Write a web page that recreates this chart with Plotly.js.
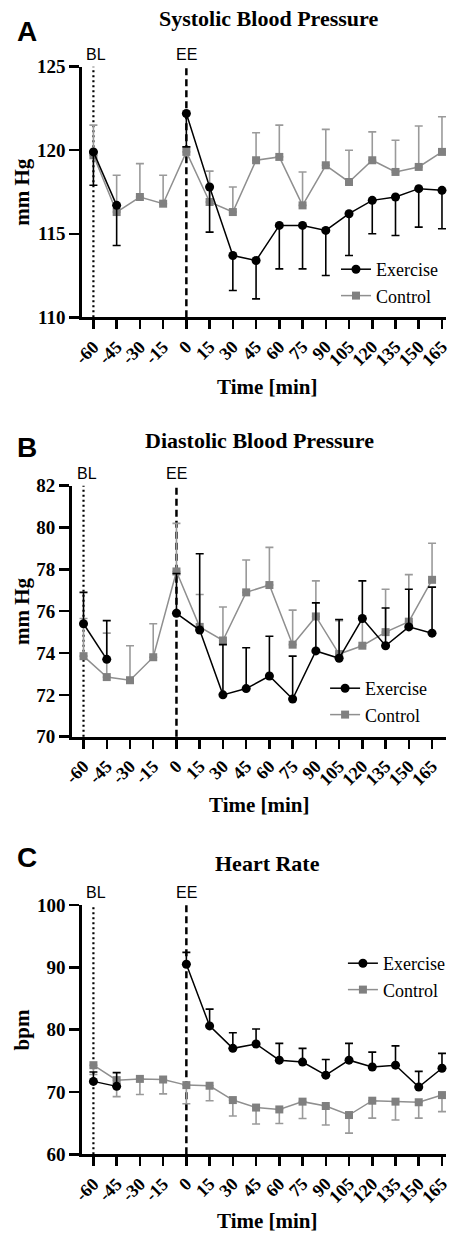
<!DOCTYPE html>
<html>
<head>
<meta charset="utf-8">
<script src="https://cdn.plot.ly/plotly-3.0.1.min.js"></script>
<style>html,body{margin:0;padding:0;background:#fff;}#chart{width:450px;height:1234px;}</style>
</head>
<body>
<div id="chart"></div>
<script>
// ---------- data ----------
const timeMin = [-60, -45, -30, -15, 0, 15, 30, 45, 60, 75, 90, 105, 120, 135, 150, 165];
const tickLabels = ["-60","-45","-30","-15","0","15","30","45","60","75","90","105","120","135","150","165"];
const seriesNames = ["Exercise", "Control"];
const markerTimes = {BL: -60, EE: 0};

// A: systolic (exercise SEM drawn downward, control SEM upward)
const sbpExercise = [119.9, 116.7, null, null, 122.2, 117.8, 113.7, 113.4, 115.5, 115.5, 115.2, 116.2, 117.0, 117.2, 117.7, 117.6];
const sbpExerciseErr = [2.0, 2.4, null, null, 2.0, 2.7, 2.1, 2.3, 2.6, 2.6, 2.7, 2.5, 2.0, 2.3, 2.3, 2.3];
const sbpControl = [119.7, 116.3, 117.2, 116.8, 119.9, 116.9, 116.3, 119.4, 119.6, 116.7, 119.1, 118.1, 119.4, 118.7, 119.0, 119.9];
const sbpControlErr = [1.8, 2.2, 2.0, 1.7, 0.3, 1.85, 1.5, 1.65, 1.9, 2.0, 2.15, 1.9, 1.7, 1.9, 2.45, 2.1];

// B: diastolic (both SEM upward)
const dbpExercise = [75.4, 73.7, null, null, 75.9, 75.1, 72.0, 72.3, 72.9, 71.8, 74.1, 73.75, 75.65, 74.35, 75.25, 74.95];
const dbpExerciseErr = [1.5, 1.85, null, null, 1.9, 3.65, 2.4, 1.95, 1.9, 2.05, 2.3, 1.85, 1.8, 1.8, 1.8, 2.2];
const dbpControl = [73.85, 72.85, 72.7, 73.8, 77.9, 75.25, 74.6, 76.9, 77.25, 74.4, 75.75, 73.95, 74.35, 75.0, 75.5, 77.5];
const dbpControlErr = [1.8, 2.1, 1.65, 1.6, 2.3, 1.55, 1.6, 1.55, 1.8, 1.65, 1.7, 1.6, 1.3, 2.05, 2.25, 1.75];

// C: heart rate (exercise SEM upward, control SEM downward)
const hrExercise = [71.7, 70.9, null, null, 90.5, 80.6, 77.0, 77.7, 75.1, 74.8, 72.7, 75.1, 74.0, 74.3, 70.8, 73.8];
const hrExerciseErr = [1.5, 2.2, null, null, 1.9, 2.7, 2.5, 2.4, 2.7, 2.2, 2.5, 2.7, 2.4, 3.1, 2.5, 2.4];
const hrControl = [74.3, 71.9, 72.1, 72.0, 71.1, 71.0, 68.7, 67.5, 67.2, 68.45, 67.75, 66.3, 68.6, 68.45, 68.35, 69.5];
const hrControlErr = [1.5, 2.65, 2.5, 2.3, 3.0, 2.4, 2.55, 2.65, 2.25, 2.7, 3.05, 2.9, 2.8, 2.95, 2.55, 2.65];

// ---------- styling ----------
const SERIF = "Liberation Serif, Times New Roman, serif";
const SANS = "Liberation Sans, Arial, sans-serif";
const BLACK = "#000000";
const GREY = "#808080";
const GREY_LINE = "#8f8f8f";
const GREY_ERR = "#9a9a9a";
const zeros = timeMin.map(() => 0);

function errObj(vals, dir, color) {
  const e = {type: "data", symmetric: false, color: color, thickness: 1.6, width: 4};
  if (dir === "up") { e.array = vals; e.arrayminus = zeros; }
  else { e.array = zeros; e.arrayminus = vals; }
  return e;
}
function ctrlTrace(y, err, dir, ax, leg) {
  return {x: timeMin, y: y, name: seriesNames[1], type: "scatter", mode: "lines+markers",
    xaxis: "x" + ax, yaxis: "y" + ax, legend: leg, cliponaxis: false,
    line: {color: GREY_LINE, width: 1.5},
    marker: {symbol: "square", size: 8, color: GREY},
    error_y: errObj(err, dir, GREY_ERR)};
}
function exTrace(y, err, dir, ax, leg) {
  return {x: timeMin, y: y, name: seriesNames[0], type: "scatter", mode: "lines+markers",
    xaxis: "x" + ax, yaxis: "y" + ax, legend: leg, cliponaxis: false, connectgaps: false,
    line: {color: BLACK, width: 1.5},
    marker: {symbol: "circle", size: 9, color: BLACK},
    error_y: errObj(err, dir, BLACK)};
}

const data = [
  ctrlTrace(sbpControl, sbpControlErr, "up", "", "legend"),
  exTrace(sbpExercise, sbpExerciseErr, "down", "", "legend"),
  ctrlTrace(dbpControl, dbpControlErr, "up", "2", "legend2"),
  exTrace(dbpExercise, dbpExerciseErr, "up", "2", "legend2"),
  ctrlTrace(hrControl, hrControlErr, "down", "3", "legend3"),
  exTrace(hrExercise, hrExerciseErr, "up", "3", "legend3")
];

const H = 1234, W = 450;
const py = v => 1 - v / H;   // pixel row -> paper y
const px = v => v / W;       // pixel col -> paper x

function xAxis(domainLeft, range, anchor) {
  return {domain: [px(domainLeft), 1], range: range, anchor: anchor,
    tickmode: "array", tickvals: timeMin, ticktext: tickLabels, tickangle: -45,
    ticklabeloverflow: "allow",
    ticks: "outside", ticklen: 9, tickwidth: 2.5, tickcolor: BLACK,
    showline: true, linewidth: 3, linecolor: BLACK, showgrid: false, zeroline: false,
    tickfont: {family: SERIF, size: 18, weight: "bold", color: BLACK}};
}
function yAxis(domainPx, range, dtick, anchor) {
  return {domain: [py(domainPx[0]), py(domainPx[1])], range: range, anchor: anchor,
    tick0: range[0], dtick: dtick,
    ticks: "outside", ticklen: 10, tickwidth: 2.5, tickcolor: BLACK,
    showline: true, linewidth: 3, linecolor: BLACK, showgrid: false, zeroline: false,
    tickfont: {family: SERIF, size: 19, weight: "bold", color: BLACK}};
}

function vlines(ax) {
  const xr = "x" + ax, yr = "y" + (ax || "") + " domain";
  return [
    {type: "line", xref: xr, yref: yr, x0: markerTimes.BL, x1: markerTimes.BL, y0: 0, y1: 1,
     line: {color: BLACK, width: 2.2, dash: "2px,3px"}, layer: "below"},
    {type: "line", xref: xr, yref: yr, x0: markerTimes.EE, x1: markerTimes.EE, y0: 0, y1: 1,
     line: {color: BLACK, width: 2.5, dash: "7px,4px"}, layer: "below"}
  ];
}

function panelAnn(letter, title, ax, letterY, titleY, titleX, topPx, botPx, ytitle, xtitleY, xtitleX) {
  const xr = "x" + ax, yr = "y" + (ax || "") + " domain";
  const ymid = (topPx + botPx) / 2;
  return [
    {text: letter, xref: "paper", yref: "paper", x: px(15), y: py(letterY), xanchor: "left", yanchor: "middle",
     showarrow: false, font: {family: SANS, size: 28, weight: "bold", color: BLACK}},
    {text: title, xref: "paper", yref: "paper", x: px(titleX), y: py(titleY), xanchor: "center", yanchor: "middle",
     showarrow: false, font: {family: SERIF, size: 22, weight: "bold", color: BLACK}},
    {text: "BL", xref: xr, yref: yr, x: markerTimes.BL, y: 1, xanchor: "center", yanchor: "bottom", xshift: 3, yshift: 2,
     showarrow: false, font: {family: SANS, size: 16, color: BLACK}},
    {text: "EE", xref: xr, yref: yr, x: markerTimes.EE, y: 1, xanchor: "center", yanchor: "bottom", yshift: 2,
     showarrow: false, font: {family: SANS, size: 16, color: BLACK}},
    {text: ytitle, xref: "paper", yref: "paper", x: px(22), y: py(ymid), xanchor: "center", yanchor: "middle",
     textangle: -90, showarrow: false, font: {family: SERIF, size: 21, weight: "bold", color: BLACK}},
    {text: "Time [min]", xref: "paper", yref: "paper", x: px(xtitleX), y: py(xtitleY), xanchor: "center", yanchor: "middle",
     showarrow: false, font: {family: SERIF, size: 21, weight: "bold", color: BLACK}}
  ];
}

function legendObj(leftPx, topPx) {
  return {x: px(leftPx), y: py(topPx), xanchor: "left", yanchor: "top", traceorder: "reversed",
    bgcolor: "rgba(0,0,0,0)", borderwidth: 0, itemclick: false, tracegroupgap: 0,
    font: {family: SERIF, size: 18, color: BLACK}};
}

const layout = {
  width: W, height: H, autosize: false,
  margin: {l: 0, r: 0, t: 0, b: 0, pad: 0},
  paper_bgcolor: "#ffffff", plot_bgcolor: "#ffffff",
  showlegend: true,
  xaxis: xAxis(83, [-67.2, 167.6], "y"),
  yaxis: yAxis([317.3, 66.7], [110, 125], 5, "x"),
  xaxis2: xAxis(72.7, [-67.4, 174], "y2"),
  yaxis2: yAxis([736.7, 485.7], [70, 82], 2, "x2"),
  xaxis3: xAxis(83, [-67.2, 167.6], "y3"),
  yaxis3: yAxis([1154.3, 905], [60, 100], 10, "x3"),
  legend: legendObj(339, 251),
  legend2: legendObj(328, 670),
  legend3: legendObj(346, 945),
  shapes: [].concat(vlines(""), vlines("2"), vlines("3")),
  annotations: [].concat(
    panelAnn("A", "Systolic Blood Pressure", "", 32, 19, 271, 66.7, 317.3, "mm Hg", 387, 270),
    panelAnn("B", "Diastolic Blood Pressure", "2", 447, 440, 262, 485.7, 736.7, "mm Hg", 805, 262),
    panelAnn("C", "Heart Rate", "3", 857, 863, 270, 905, 1154.3, "bpm", 1221, 270)
  )
};

Plotly.newPlot("chart", data, layout, {staticPlot: true, displayModeBar: false});
</script>
</body>
</html>
